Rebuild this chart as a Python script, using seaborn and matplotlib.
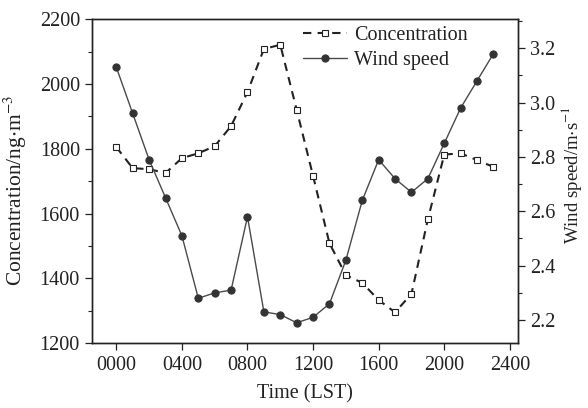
import matplotlib
matplotlib.use("Agg")
import matplotlib.pyplot as plt
import seaborn as sns
import pandas as pd
from matplotlib.ticker import MultipleLocator, FormatStrFormatter, FuncFormatter

# --- data ---
hours = [0, 100, 200, 300, 400, 500, 600, 700, 800, 900, 1000, 1100,
         1200, 1300, 1400, 1500, 1600, 1700, 1800, 1900, 2000, 2100, 2200, 2300]
concentration = [1805, 1740, 1737, 1725, 1771, 1786, 1808, 1870, 1975, 2108, 2121, 1920,
                 1716, 1508, 1410, 1386, 1333, 1295, 1352, 1582, 1782, 1786, 1765, 1744]
wind_speed = [3.13, 2.96, 2.79, 2.65, 2.51, 2.28, 2.30, 2.31, 2.58, 2.23, 2.22, 2.19,
              2.21, 2.26, 2.42, 2.64, 2.79, 2.72, 2.67, 2.72, 2.85, 2.98, 3.08, 3.18]
x_ticks = [0, 400, 800, 1200, 1600, 2000, 2400]

df = pd.DataFrame({"time": hours, "conc": concentration, "wind": wind_speed})

sns.set_theme(style="ticks")
plt.rcParams["font.family"] = ["Liberation Serif", "DejaVu Serif"]
plt.rcParams["mathtext.fontset"] = "stix"

FS = 14.5
fig = plt.figure(figsize=(5.88, 4.08), dpi=100)
ax = fig.add_axes([0.156, 0.159, 0.725, 0.794])
ax2 = ax.twinx()

ink = "#222222"

sns.lineplot(data=df, x="time", y="conc", ax=ax, color=ink, lw=1.5,
             marker="s", markersize=5, markerfacecolor="white", markeredgecolor=ink,
             markeredgewidth=0.8, label="Concentration", legend=False)
ax.lines[0].set_dashes((4, 3))

sns.lineplot(data=df, x="time", y="wind", ax=ax2, color="#4a4a4a", lw=1.0,
             marker="o", markersize=5.2, markerfacecolor="#333333", markeredgecolor="#333333",
             label="Wind speed", legend=False)

ax.set_xlim(-150, 2450)
ax.set_ylim(1200, 2200)
ax2.set_ylim(2.115, 3.307)

ax.set_xticks(x_ticks)
ax.xaxis.set_major_formatter(FuncFormatter(lambda v, p: f"{int(v):04d}"))
ax.yaxis.set_major_locator(MultipleLocator(200))
ax.yaxis.set_minor_locator(MultipleLocator(100))
ax2.yaxis.set_major_locator(MultipleLocator(0.2))
ax2.yaxis.set_minor_locator(MultipleLocator(0.1))
ax2.yaxis.set_major_formatter(FormatStrFormatter("%.1f"))

for a in (ax, ax2):
    a.tick_params(which="major", direction="out", length=5, width=0.9,
                  colors=ink, labelsize=FS, labelcolor=ink)
    a.tick_params(which="minor", direction="out", length=3, width=0.8, colors=ink)
    for s in a.spines.values():
        s.set_color(ink)
        s.set_linewidth(1.0)
ax.tick_params(axis="x", pad=4)

ax.set_xlabel("Time (LST)", fontsize=FS, color=ink, labelpad=7)
ax.set_ylabel(r"Concentration/ng$\cdot$m$^{-3}$", fontsize=15.5, color=ink)
ax.yaxis.set_label_coords(-0.146, 0.472)
ax2.set_ylabel(r"Wind speed/m$\cdot$s$^{-1}$", fontsize=13.5, color=ink)
ax2.yaxis.set_label_coords(1.095, 0.52)

h1, l1 = ax.get_legend_handles_labels()
h2, l2 = ax2.get_legend_handles_labels()
ax2.legend(h1 + h2, l1 + l2, loc="upper right", bbox_to_anchor=(0.925, 1.035),
           frameon=False, fontsize=FS, handlelength=2.2, handletextpad=0.35,
           labelspacing=0.3, labelcolor=ink)

ax.grid(False)
ax2.grid(False)
fig.savefig("out.png", dpi=100)
